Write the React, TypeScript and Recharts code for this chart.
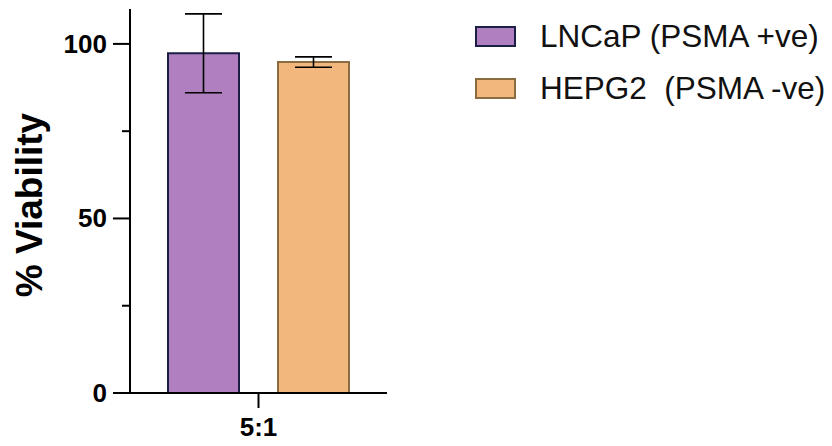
import React from "react";
import { BarChart, Bar, XAxis, YAxis, ErrorBar, Label } from "recharts";

const categories = ["5:1"];
const seriesNames = ["LNCaP (PSMA +ve)", "HEPG2  (PSMA -ve)"];
const lncapMean = [97.3];
const lncapErr = [11.3];
const hepg2Mean = [94.8];
const hepg2Err = [1.5];
const yTicks = [0, 25, 50, 75, 100];

const fills = ["#b07fc0", "#f2b77c"];
const strokes = ["#1c1f45", "#8a6c40"];

const data = categories.map((c, i) => ({
    name: c,
    lncap: lncapMean[i],
    lncapErr: lncapErr[i],
    hepg2: hepg2Mean[i],
    hepg2Err: hepg2Err[i],
}));

const FONT = "Arial, 'Liberation Sans', Helvetica, sans-serif";
const TICK = 17;
const GAP = 6;

function YTick(props: any) {
    const { x, y, payload } = props;
    const axisX = x + TICK + GAP;
    const major = payload.value % 50 === 0;
    return (
        <g>
            <line x1={axisX - (major ? TICK : 8)} x2={axisX} y1={y} y2={y} stroke="#000" strokeWidth={2} />
            {major && (
                <text x={x} y={y} textAnchor="end" dominantBaseline="central" fontFamily={FONT} fontWeight="bold" fontSize={26} fill="#000">
                    {payload.value}
                </text>
            )}
        </g>
    );
}

function LegendBox() {
    return (
        <div style={{ position: "absolute", left: 475, top: 10, fontFamily: FONT, fontSize: 31.5, color: "#111" }}>
            {seriesNames.map((n, i) => (
                <div key={n} style={{ display: "flex", alignItems: "center", height: 52 }}>
                    <div style={{ width: 37, height: 17, background: fills[i], border: `2px solid ${strokes[i]}`, marginRight: 24, flexShrink: 0 }} />
                    <span style={{ whiteSpace: "pre" }}>{n}</span>
                </div>
            ))}
        </div>
    );
}

export default function App() {
    return (
        <div style={{ position: "fixed", left: 0, top: 0, width: 832, height: 446, background: "#fff" }}>
            <BarChart width={832} height={446} data={data} margin={{ top: 9, right: 445, bottom: 23, left: 0 }} barSize={71} barGap={39}>
                <XAxis
                    dataKey="name"
                    height={30}
                    axisLine={{ stroke: "#000", strokeWidth: 2 }}
                    tickLine={{ stroke: "#000", strokeWidth: 2 }}
                    tickSize={15}
                    tickMargin={10}
                    tick={{ fontFamily: FONT, fontWeight: "bold", fontSize: 26, fill: "#000" }}
                />
                <YAxis
                    width={130}
                    domain={[0, 110]}
                    ticks={yTicks}
                    interval={0}
                    axisLine={{ stroke: "#000", strokeWidth: 2 }}
                    tickLine={{ stroke: "none" }}
                    tickSize={TICK}
                    tickMargin={GAP}
                    tick={<YTick />}
                >
                    <Label
                        content={(p: any) => {
                            const vb = p.viewBox;
                            const cx = 42;
                            const cy = vb.y + vb.height / 2 + 4;
                            return (
                                <text x={cx} y={cy} transform={`rotate(-90, ${cx}, ${cy})`} textAnchor="middle" fontFamily={FONT} fontWeight="bold" fontSize={37} fill="#000">
                                    % Viability
                                </text>
                            );
                        }}
                    />
                </YAxis>
                <Bar dataKey="lncap" name={seriesNames[0]} fill={fills[0]} stroke={strokes[0]} strokeWidth={2} isAnimationActive={false}>
                    <ErrorBar dataKey="lncapErr" width={18.5} stroke="#000" strokeWidth={1.6} direction="y" />
                </Bar>
                <Bar dataKey="hepg2" name={seriesNames[1]} fill={fills[1]} stroke={strokes[1]} strokeWidth={2} isAnimationActive={false}>
                    <ErrorBar dataKey="hepg2Err" width={18.5} stroke="#000" strokeWidth={1.6} direction="y" />
                </Bar>
            </BarChart>
            <LegendBox />
        </div>
    );
}
